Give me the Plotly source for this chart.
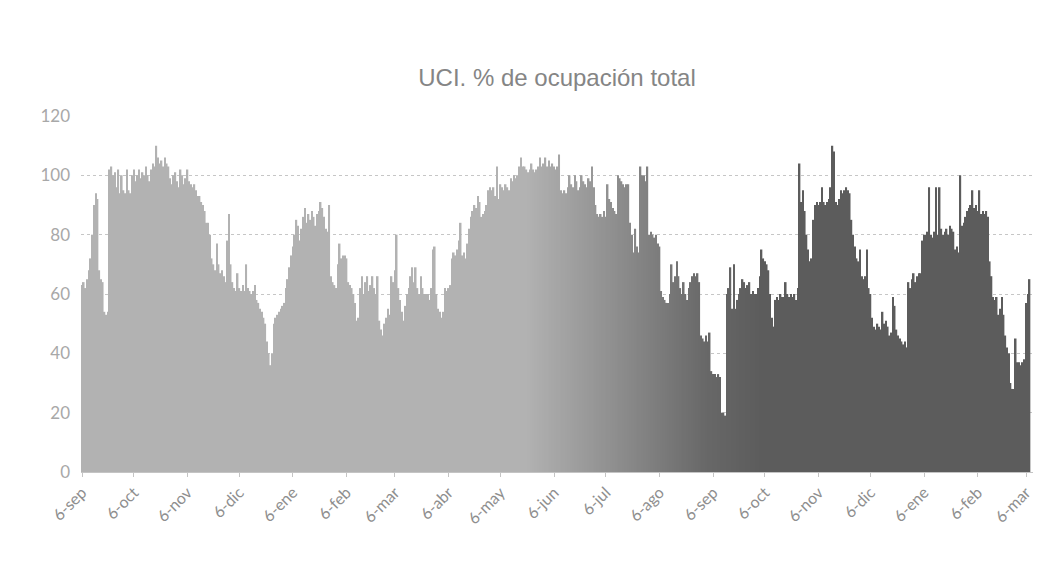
import plotly.graph_objects as go
import pandas as pd

# Daily ICU total occupancy (%), starting 6-sep
start_date = "2020-09-06"
occupancy = [
    63, 64, 62, 65, 68, 72, 80, 90, 94, 92, 68, 65, 64, 54, 53, 54,
    102, 103, 100, 101, 96, 102,
    94, 100, 95, 94, 102, 95, 94,
    100, 102, 98, 100, 102, 99, 101,
    100, 103, 100, 98, 102, 104, 103,
    110,
    106, 104, 105, 103, 106, 104, 103,
    99, 97, 100, 101, 98, 96, 102,
    100, 97, 99, 102, 98, 97, 96,
    97, 95, 93, 93, 91, 90, 88, 84, 84, 80, 72, 70,
    68, 77, 70, 67, 68, 66, 64, 78, 87, 70,
    64, 62, 61, 67, 62, 61, 63, 61, 70, 62, 61, 60, 61,
    63, 58, 57, 55, 54, 52, 50, 44, 40, 36, 40,
    50, 52, 53, 54, 55, 56, 57, 62, 65, 69, 73, 76,
    80, 85, 83, 78, 82, 86, 89, 84, 87, 85, 88, 86, 83,
    87, 88, 91, 89, 86, 82, 81, 90,
    66, 64, 63, 62, 70, 77, 72, 73, 73, 72, 64,
    63, 62, 60, 57, 51, 52,
    62, 66, 60, 64, 66, 61, 63, 66, 62, 60, 66,
    51, 48, 46, 50, 52, 55, 53, 66, 64, 68, 80,
    62, 58, 54, 51, 56, 60, 62, 66, 69,
    64, 69, 62, 60, 66, 62, 60, 60,
    60, 58, 62, 75, 76, 60, 55, 54, 52, 54, 62,
    61, 62, 63, 72, 74, 73, 75, 78, 84,
    73, 74, 72, 77, 82, 86, 88, 90, 89, 93, 91,
    86, 87, 88, 90, 95, 96, 95, 96, 93, 103, 92,
    97, 96, 95, 97, 96, 95, 99, 98, 100, 99, 100,
    103, 106, 103, 103, 102, 101, 102, 104, 102, 101, 102,
    103, 106, 103, 104, 106, 103, 105, 103, 104, 103, 102, 103,
    107, 95, 94, 95, 94, 96,
    100, 97, 96, 100, 98, 95, 96, 100, 98, 97, 96,
    99, 98, 103,
    96, 90, 87, 86, 87, 86, 88, 86, 97, 92,
    91, 89, 88, 87, 100, 99, 98, 97, 96, 97, 97,
    84, 80, 74, 82, 76, 74,
    103, 100, 100, 98, 103,
    80, 81, 80, 79, 80, 77,
    76, 61, 59, 58, 57, 57, 60, 70,
    64, 66, 71, 66, 62, 60, 64, 60, 58, 62, 64,
    66, 67, 66, 67, 64, 46, 45, 44, 46, 44, 47,
    34, 33, 33, 32, 33, 32, 20, 20, 19, 60, 62,
    69, 55, 70, 55, 58, 60, 62, 65, 64, 62, 63,
    64, 60, 61, 60, 60, 62, 66, 75, 72, 71, 70,
    68, 60, 52, 49, 58, 59, 58, 60, 59, 59, 64,
    60, 59, 60, 59, 60, 58, 62,
    104, 91, 95, 88, 80, 75, 71, 72, 85, 90,
    91, 90, 91, 96, 91, 90, 91, 92, 96, 110, 108,
    91, 90, 92, 95, 94, 95, 96, 95, 94,
    85, 80, 76, 72, 71, 75, 66, 65, 66, 75,
    62, 60, 52, 49, 48, 50, 49, 48, 54, 50,
    51, 49, 46, 47, 59, 56, 48, 46, 45, 44, 43, 44, 42,
    64, 62, 65, 67, 64, 66, 67, 67, 78, 80,
    80, 81, 96, 80, 79, 81, 96, 80, 96, 82,
    80, 81, 82, 80, 83, 82, 81, 75, 76, 74, 100,
    83, 84, 86, 88, 89, 90, 95, 89, 90, 88, 95, 87, 88,
    87, 88, 86, 71, 66, 59, 58, 59, 53, 55, 59, 53,
    46, 42, 40, 30, 28, 28, 45, 37, 37, 36, 37, 38,
    57, 60, 65,
]

tick_dates = ["2020-09-06", "2020-10-06", "2020-11-06", "2020-12-06",
              "2021-01-06", "2021-02-06", "2021-03-06", "2021-04-06",
              "2021-05-06", "2021-06-06", "2021-07-06", "2021-08-06",
              "2021-09-06", "2021-10-06", "2021-11-06", "2021-12-06",
              "2022-01-06", "2022-02-06", "2022-03-06"]
tick_labels = ["6-sep", "6-oct", "6-nov", "6-dic", "6-ene", "6-feb", "6-mar",
               "6-abr", "6-may", "6-jun", "6-jul", "6-ago", "6-sep", "6-oct",
               "6-nov", "6-dic", "6-ene", "6-feb", "6-mar"]
y_ticks = [0, 20, 40, 60, 80, 100, 120]

dates = pd.date_range(start_date, periods=len(occupancy), freq="D")

# shading of the photocopy: lighter on the left, darker on the right
def shade(i, n):
    f = i / (n - 1)
    if f < 0.47:
        g = 178
    elif f < 0.57:
        g = 178 - (f - 0.47) / 0.10 * 38
    elif f < 0.66:
        g = 140 - (f - 0.57) / 0.09 * 36
    elif f < 0.72:
        g = 104 - (f - 0.66) / 0.06 * 12
    else:
        g = 92
    g = int(g)
    return f"rgb({g},{g},{g})"

colors = [shade(i, len(occupancy)) for i in range(len(occupancy))]

fig = go.Figure(go.Bar(
    x=dates, y=occupancy,
    marker=dict(color=colors, line=dict(width=0)),
))

fig.update_layout(
    width=1063, height=570,
    margin=dict(l=73, r=38, t=108, b=106),
    paper_bgcolor="white", plot_bgcolor="white",
    bargap=0.08,
    showlegend=False,
    title=dict(text="UCI. % de ocupación total", x=0.5, xref="paper",
               y=1 - 70 / 570, yanchor="middle",
               font=dict(family="Liberation Sans, Arial", size=24, color="#858585")),
)
fig.update_xaxes(
    range=[pd.Timestamp(start_date) - pd.Timedelta(hours=14),
           dates[-1] + pd.Timedelta(days=2)],
    tickvals=tick_dates, ticktext=tick_labels, tickangle=-45,
    tickfont=dict(family="Lato, Open Sans", size=16, color="#8e8e8e"),
    showgrid=False, showline=True, linecolor="#c4c4c4", linewidth=1,
    ticks="outside", ticklen=4, tickcolor="#c4c4c4",
)
fig.update_yaxes(
    range=[0, 120], tickvals=y_ticks,
    tickfont=dict(family="Lato, Open Sans", size=17, color="#a8a8a8"),
    showgrid=True, gridcolor="#c6c6c6", gridwidth=1, griddash="dot",
    zeroline=False, ticks="", ticklabelstandoff=10,
)

fig.write_html("out.html")
